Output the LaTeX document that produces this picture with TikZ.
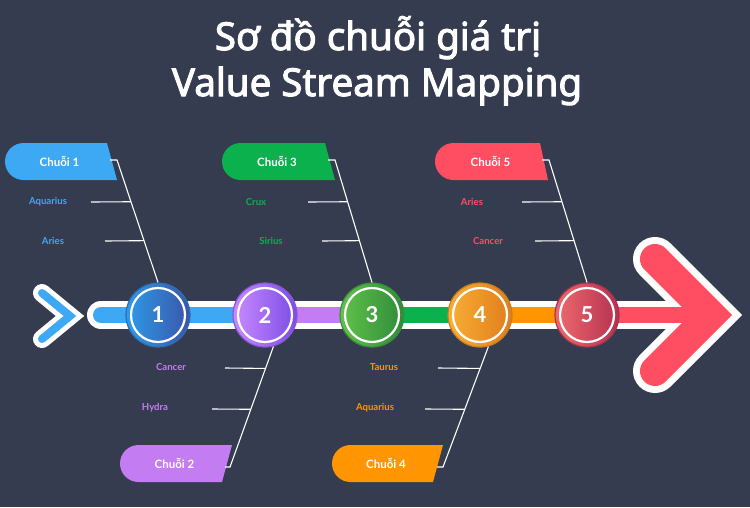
\documentclass[tikz,border=0pt]{standalone}
\usepackage{fontspec}
\setmainfont{Lato}
\newfontfamily\titlefont{Noto Sans}[FakeBold=2.6]
\usetikzlibrary{calc}
\definecolor{bg}{HTML}{353C4F}
\definecolor{cA}{HTML}{3DA9F4}
\definecolor{cB}{HTML}{C47CF3}
\definecolor{cC}{HTML}{0BB14D}
\definecolor{cD}{HTML}{FF9500}
\definecolor{cE}{HTML}{FF4D61}
\definecolor{gA1}{HTML}{2E9BEA}\definecolor{gA2}{HTML}{3A55A8}\definecolor{bA}{HTML}{2C6DB3}
\definecolor{gB1}{HTML}{C98AFF}\definecolor{gB2}{HTML}{7B4DE6}\definecolor{bB}{HTML}{8A55D8}
\definecolor{gC1}{HTML}{62C24A}\definecolor{gC2}{HTML}{2E8B3A}\definecolor{bC}{HTML}{3A8F3E}
\definecolor{gD1}{HTML}{F8AE35}\definecolor{gD2}{HTML}{E07D1B}\definecolor{bD}{HTML}{C9801F}
\definecolor{gE1}{HTML}{EE6A6F}\definecolor{gE2}{HTML}{B5304F}\definecolor{bE}{HTML}{A8344C}
\tikzset{
  lbl/.style={font=\bfseries\fontsize{9.6}{10}\selectfont, inner sep=0pt},
  boxtext/.style={font=\bfseries\fontsize{11.5}{12}\selectfont, text=white, inner sep=0pt},
  conn/.style={white, line width=1.1pt},
  numcircle/.style={circle, minimum size=64pt, inner sep=0pt, line width=1.2pt,
     font=\bfseries\fontsize{22}{22}\selectfont, text=white},
}
\newcommand\ChuoiBox[7]{%
  \fill[#6] ({#2+18.5},#5) -- (#3,#5) -- (#4,{#5+37}) -- ({#2+18.5},{#5+37})
     arc[start angle=90,end angle=270,radius=18.5] -- cycle;
  \node[boxtext] (#1) at ({(#2+(#3+#4)/2)/2+1},{#5+18.5}) {#7};
}
\begin{document}
\begin{tikzpicture}[x=1pt,y=-1pt]
\fill[bg] (0,0) rectangle (750,507);
\useasboundingbox (0,0) rectangle (750,507);
% title
\node[anchor=base, text=white, font=\titlefont\fontsize{38.5}{40}\selectfont, inner sep=0pt] (title1) at (378,50) {Sơ đồ chuỗi giá trị};
\node[anchor=base, text=white, font=\titlefont\fontsize{38.5}{40}\selectfont, inner sep=0pt] (title2) at (377,96) {Value Stream Mapping};
% left chevron
\draw[white, line width=18pt, line cap=round, line join=miter] (42,293) -- (70,316) -- (42,339);
\draw[cA, line width=8pt, line cap=round, line join=miter] (42,293) -- (70,316) -- (42,339);
% main bar outline and big arrow outline
\draw[white, line width=28pt, line cap=round] (101,315) -- (712,315);
\draw[white, line width=44pt, line cap=round, line join=miter] (655,259) -- (711,315) -- (655,371);
% coloured bar
\draw[cA, line width=16pt, line cap=round] (101,315) -- (265,315);
\draw[cB, line width=16pt] (265,315) -- (372,315);
\draw[cC, line width=16pt] (372,315) -- (480,315);
\draw[cD, line width=16pt] (480,315) -- (587,315);
\draw[cE, line width=16pt] (587,315) -- (711,315);
\draw[cE, line width=30pt, line cap=round, line join=miter] (655,259) -- (711,315) -- (655,371);
% circles
\foreach \n/\x/\ga/\gb/\bd in {1/158/gA1/gA2/bA, 2/265/gB1/gB2/bB, 3/372/gC1/gC2/bC, 4/480/gD1/gD2/bD, 5/587/gE1/gE2/bE}{
  \node[numcircle, draw=\bd, left color=\ga, right color=\gb] (c\n) at (\x,315) {\n};
  \draw[white, line width=2.2pt] (c\n.center) circle[radius=27];
}
% boxes
\ChuoiBox{b1}{5}{107}{117}{143}{cA}{Chuỗi 1}
\ChuoiBox{b3}{222}{325}{335}{143}{cC}{Chuỗi 3}
\ChuoiBox{b5}{435}{540}{548}{143}{cE}{Chuỗi 5}
\ChuoiBox{b2}{120}{232}{222}{445}{cB}{Chuỗi 2}
\ChuoiBox{b4}{332}{443}{433}{445}{cD}{Chuỗi 4}
% labels
\node[lbl, text=cA] (l1a) at (48,202) {Aquarius};
\node[lbl, text=cA] (l1b) at (53,241) {Aries};
\node[lbl, text=cC] (l3a) at (256,202) {Crux};
\node[lbl, text=cC] (l3b) at (271,241) {Sirius};
\node[lbl, text=cE] (l5a) at (472,202) {Aries};
\node[lbl, text=cE] (l5b) at (488,241) {Cancer};
\node[lbl, text=cB] (l2a) at (171,367) {Cancer};
\node[lbl, text=cB] (l2b) at (155,408) {Hydra};
\node[lbl, text=cD] (l4a) at (384,367) {Taurus};
\node[lbl, text=cD] (l4b) at (375,408) {Aquarius};
% connector coordinates
\coordinate (k1a) at (110,160); \coordinate (k1b) at (117,160);
\coordinate (k3a) at (328,160); \coordinate (k3b) at (335,160);
\coordinate (k5a) at (542,160); \coordinate (k5b) at (549,160);
\coordinate (k2a) at (225,467); \coordinate (k2b) at (230,467);
\coordinate (k4a) at (437,467); \coordinate (k4b) at (443,467);
\coordinate (s1a) at (91,202); \coordinate (s1b) at (105,241);
\coordinate (s3a) at (308,202); \coordinate (s3b) at (322,241);
\coordinate (s5a) at (522,202); \coordinate (s5b) at (535,241);
\coordinate (s2a) at (225,368); \coordinate (s2b) at (212,409);
\coordinate (s4a) at (438,368); \coordinate (s4b) at (425,409);
% connectors
\foreach \n in {1,3,5}{
  \draw[conn] (k\n a) -- (k\n b) -- (c\n.north);
  \draw[conn] (s\n a) -- ($(k\n b)!0.341!(c\n.north)$);
  \draw[conn] (s\n b) -- ($(k\n b)!0.659!(c\n.north)$);
}
\foreach \n in {2,4}{
  \draw[conn] (k\n a) -- (k\n b) -- (c\n.-75);
  \draw[conn] (s\n a) -- ($(k\n b)!0.818!(c\n.-75)$);
  \draw[conn] (s\n b) -- ($(k\n b)!0.479!(c\n.-75)$);
}
\end{tikzpicture}
\end{document}
